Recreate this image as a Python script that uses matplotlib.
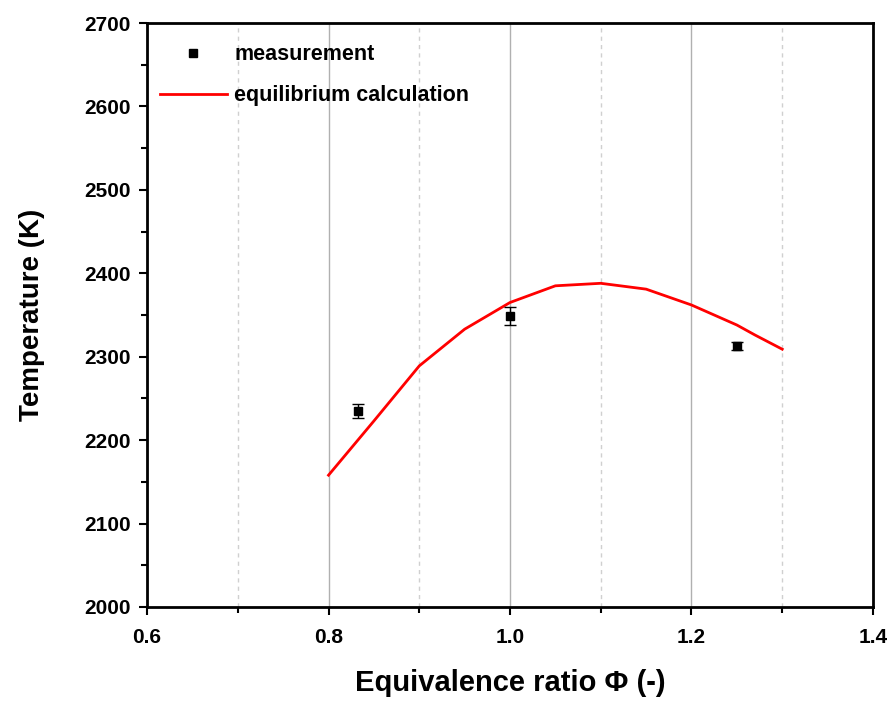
import matplotlib
matplotlib.use("Agg")
import matplotlib.pyplot as plt
from matplotlib.ticker import MultipleLocator
from matplotlib.lines import Line2D
import numpy as np

# measured temperatures
phi_meas = [0.833, 1.0, 1.25]
T_meas = [2235, 2349, 2313]
T_err = [8, 11, 5]

# equilibrium calculation
phi_eq = [0.80, 0.85, 0.90, 0.95, 1.00, 1.05, 1.10, 1.15, 1.20, 1.25, 1.27, 1.30]
T_eq = [2158, 2223, 2289, 2333, 2365, 2385, 2388, 2381, 2362, 2338, 2326, 2309]

plt.rcParams['font.family'] = ['Liberation Sans', 'DejaVu Sans']
plt.rcParams['font.weight'] = 'bold'

fig = plt.figure(figsize=(8.95, 7.04), dpi=100)
ax = fig.add_axes([0.1643, 0.1378, 0.8111, 0.8295])

ax.errorbar(phi_meas, T_meas, yerr=T_err, fmt='s', color='black', ms=5.5,
            elinewidth=1, capsize=4, capthick=1, zorder=3)
ax.plot(phi_eq, T_eq, '-', color='red', lw=2, zorder=2)

ax.set_xlim(0.6, 1.4)
ax.set_ylim(2000, 2700)
ax.xaxis.set_major_locator(MultipleLocator(0.2))
ax.xaxis.set_minor_locator(MultipleLocator(0.1))
ax.yaxis.set_major_locator(MultipleLocator(100))
ax.yaxis.set_minor_locator(MultipleLocator(50))

ax.grid(True, which='major', axis='x', color='#b0b0b0', lw=1)
ax.grid(True, which='minor', axis='x', color='#d0d0d0', lw=1, ls=(0, (3, 3)))
ax.set_axisbelow(True)

for s in ax.spines.values():
    s.set_linewidth(2)

ax.tick_params(which='major', direction='out', length=6, width=1.5,
               labelsize=15, pad=6, top=False, right=False)
ax.tick_params(which='minor', direction='out', length=4, width=1.5,
               top=False, right=False)
ax.tick_params(axis='x', which='major', pad=9)
for lab in ax.get_xticklabels() + ax.get_yticklabels():
    lab.set_fontweight('bold')

ax.set_xlabel('Equivalence ratio Φ (-)', fontsize=21, fontweight='bold', labelpad=16)
ax.set_ylabel('Temperature (K)', fontsize=20, fontweight='bold', labelpad=28)

# legend: marker only for the measurement, line for the calculation
h1 = Line2D([], [], ls='none', marker='s', color='black', ms=5.5)
h2 = Line2D([], [], color='red', lw=2)
leg = ax.legend([h1, h2], ['measurement', 'equilibrium calculation'],
                loc='upper left', frameon=False, fontsize=15.5,
                bbox_to_anchor=(0.018, 0.964), borderaxespad=0, borderpad=0,
                handlelength=3.1, handletextpad=0.35, labelspacing=0.95)
for t in leg.get_texts():
    t.set_fontweight('bold')

fig.savefig('out.png', dpi=100)
